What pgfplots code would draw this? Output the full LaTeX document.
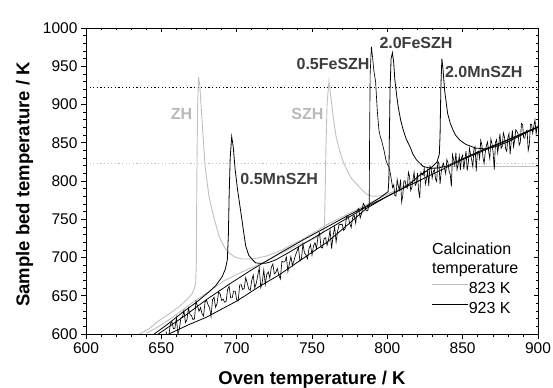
\documentclass[border=0pt]{standalone}
\usepackage{fontspec}
\setmainfont{Liberation Sans}
\usepackage{pgfplots}
\pgfplotsset{compat=1.18}
\definecolor{lgray}{RGB}{192,192,192}
\definecolor{tgray}{RGB}{185,185,185}
\definecolor{dlab}{RGB}{60,60,60}
\begin{document}
\begin{tikzpicture}
\path[use as bounding box] (-86bp,-54bp) rectangle (467bp,334bp);
\begin{axis}[
  at={(0,0)}, anchor=south west,
  width=452bp, height=306bp, scale only axis,
  xmin=600, xmax=900, ymin=600, ymax=1000,
  xtick={600,650,...,900}, ytick={600,650,...,1000},
  minor x tick num=4, minor y tick num=4,
  xtick pos=left, ytick pos=left,
  tick align=outside,
  major tick length=5bp, minor tick length=3bp,
  tick style={black, line width=0.6bp},
  axis line style={line width=0.8bp},
  ticklabel style={font=\fontsize{15.5bp}{18bp}\selectfont},
  /pgf/number format/assume math mode=true,
  /pgf/number format/1000 sep={},
  legend style={at={(axis cs:829.6,668.9)}, anchor=north west, draw=none, fill=none,
    inner sep=0pt, outer sep=0pt, row sep=5bp,
    font=\fontsize{16bp}{18bp}\selectfont,
    nodes={inner sep=0pt, outer sep=0pt, text height=12bp, text depth=3bp}},
  legend cell align=left,
  legend image code/.code={\draw[#1] (0bp,4.5bp) -- (36bp,4.5bp);},
  every odd column/.style={column sep=5bp},
]
% reference lines
\addplot[black, dash pattern=on 1.2bp off 2.4bp, line width=0.7bp, forget plot] coordinates {(600,923) (900,923)};
\addplot[lgray, dash pattern=on 1.2bp off 2.4bp, line width=0.7bp, forget plot] coordinates {(600,823) (900,823)};
% ZH (823 K)
\addplot[lgray, line width=0.9bp, forget plot] coordinates {
(635.5,600) (642,607) (648,617) (655,626) (661.7,635.7) (667,645) (670.5,653) (672,660) (672.8,668)
(673.2,690) (673.4,750) (673.7,830) (674.1,900) (674.7,936) (675.5,925) (677,880) (679,820)
(681.6,780) (684.5,755) (688.3,728) (692,713) (695.5,705) (699.3,700) (704,698) (708,698)
(713,699) (719,701.5) (728,708) (745,725) (760,743) (775,758) (790,773) (806,788) (815,797)
(822,808) (828,816) (835,819) (900,819)};
% SZH (823 K)
\addplot[lgray, line width=0.9bp, forget plot] coordinates {
(640.3,601) (650,612) (658,622.6) (670,640) (683,657.5) (692,670) (701.5,679) (710,687)
(719,694.5) (728,704) (738,714) (748.6,722) (754,727) (757,732) (758.3,740) (758.7,780)
(759.2,840) (760,900) (761.2,930) (762.2,915) (764,885) (766,858) (768,842) (770.5,826)
(773,815) (776,804) (780,795) (783,789) (786,783) (790,780) (795,780.5) (800,783) (806,788)
(815,797) (822,808) (828,816) (835,819) (900,819)};
% 0.5MnSZH
\addplot[black, line width=0.8bp, forget plot] coordinates {
(644.6,599) (655,614) (664.5,629) (673,641) (681.6,655) (686,663) (690.4,675) (692.5,685)
(693.8,697) (694.5,730) (695,780) (695.7,830) (696.7,858) (697.7,845) (699,815) (700.5,790)
(701.6,775) (703.3,752) (704.5,735) (706,715) (708,703) (710.5,697) (712.6,693) (715,692.5)
(719.2,692.5) (722,694) (726,697) (735,707) (760,736) (786,766) (808,788) (850,828) (900,870)};
% 2.0FeSZH
\addplot[black, line width=0.8bp, forget plot] coordinates {
(648,600) (665,623) (680,645) (695,665) (710,684) (728,705) (745,724) (760,740) (775,756)
(786,767) (795,778) (800.5,786) (801,800) (801.3,850) (801.8,920) (802.5,960) (803.4,967.7)
(804.2,955) (805,932) (806.2,912) (807.2,897) (808.8,880) (810.5,867) (812.5,855) (815,845)
(817,835) (819.4,827.5) (823.8,819) (829.3,816.5) (834,817) (840,820) (860,838) (880,854) (900,871)};
% 2.0MnSZH
\addplot[black, line width=0.8bp, forget plot] coordinates {
(655,600) (668,612) (680,622) (700,643) (715,662) (728,677) (745,700) (760,720) (775,745)
(786,764) (800,780) (810,790) (816,798) (821,807) (826,813) (830,819) (833,825) (834.5,835)
(835,860) (835.5,920) (836.2,960) (837,945) (838,919) (840,888.5) (841.7,876) (843.5,867)
(845.3,860) (848,853.6) (852,848) (858.6,843) (865.3,842) (872,845) (880,851) (890,861) (900,871)};
% 0.5FeSZH (noisy)
\addplot[black, line width=0.65bp, forget plot] coordinates {
(653,603.5) (654,598) (655,598.5) (656,613) (657,616.5) (658,607) (659,607.5) (660,621) (661,599.5)
(662,607) (663,621.5) (664,622) (665,630.5) (666,615) (667,618.5) (668,634) (669,625.5) (670,624)
(671,618.9) (672,619.9) (673,642.8) (674,636.7) (675,629.7) (676,634.6) (677,626.5) (678,623.5)
(679,641.4) (680,644.3) (681,638.3) (682,634.2) (683,623.1) (684,645.1) (685,648.0) (686,634.9)
(687,639.9) (688,654.8) (689,652.7) (690,643.7) (691,645.6) (692,641.5) (693,642.5) (694,658.4)
(695,662.3) (696,647.3) (697,647.2) (698,656.1) (699,656.1) (700,645) (701,643.1) (702,664.2)
(703,664.3) (704,658.4) (705,659.5) (706,673.6) (707,666.7) (708,658.8) (709,656.9) (710,670)
(711,677.1) (712,660.2) (713,666.3) (714,676.4) (715,686.5) (716,660.6) (717,667.7) (718,683.8)
(719,664.9) (720,678) (721,681.1) (722,673.2) (723,687.3) (724,691.4) (725,678.5) (726,680.6)
(727,685.7) (728,676.8) (729,671.9) (730,695) (731,694.2) (732,694.4) (733,700.6) (734,681.8)
(735,692.0) (736,701.2) (737,689.4) (738,695.6) (739,702.8) (740,708) (741,713.2) (742,695.4)
(743,698.6) (744,717.8) (745,706.0) (746,703.2) (747,698.4) (748,711.6) (749,716.8) (750,703)
(751,715.2) (752,719.4) (753,711.6) (754,727.8) (755,732.0) (756,713.2) (757,712.4) (758,724.6)
(759,725.8) (760,716) (761,723.6) (762,736.1) (763,711.7) (764,728.3) (765,739.9) (766,720.4)
(767,734.0) (768,743.6) (769,743.1) (770,743.7) (771,735.3) (772,737.9) (773,754.4) (774,754)
(775,744.6) (776,739.1) (777,752.7) (778,755.3) (779,744.9) (780,761.4) (781,764.0) (782,751.6)
(783,758.1) (784,770.7) (785,767.3) (786,760.9) (787,761.4)
(788,770) (788.2,850) (788.6,940) (789.4,975.6) (790.2,962) (791,945) (792.2,930) (792.8,910)
(793.3,893) (794.4,867) (795.3,858) (796.2,853) (797.8,840) (799,828) (800,822) (801,819) (802,810)
(803.5,791.4) (804.25,795.1) (805.0,780.7) (805.75,780.3) (806.5,802.0) (807.25,793.6) (808.0,788.3)
(808.75,801.9) (809.5,772.5) (810.25,781.2) (811.0,799.8) (811.75,800.4) (812.5,793.1) (813.25,790.7)
(814.0,811.4) (814.75,806.0) (815.5,787.6) (816.25,791.3) (817.0,801.9) (817.75,811.5) (818.5,794.2)
(819.25,796.8) (820.0,810.5) (820.75,787.1) (821.5,777.7) (822.25,811.4) (823.0,809.0) (823.75,807.6)
(824.5,816.3) (825.25,795.9) (826.0,802.6) (826.75,813.2) (827.5,793.8) (828.25,819.5) (829.0,817.1)
(829.75,803.7) (830.5,812.4) (831.25,815.0) (832.0,802.7) (832.75,799.3) (833.5,825.9) (834.25,822.6)
(835.0,796.2) (835.75,811.8) (836.5,819.5) (837.25,823.1) (838.0,815.8) (838.75,809.4) (839.5,828.0)
(840.25,823.7) (841.0,812.3) (841.75,808.9) (842.5,792.6) (843.25,834.2) (844.0,827.9) (844.75,820.5)
(845.5,837.1) (846.25,814.8) (847.0,821.4) (847.75,833.0) (848.5,814.7) (849.25,830.3) (850.0,834.0)
(850.75,815.6) (851.5,828.2) (852.25,838.9) (853.0,813.5) (853.75,824.1) (854.5,842.8) (855.25,834.4)
(856.0,827.1) (856.75,818.7) (857.5,842.3) (858.25,845.0) (859.0,812.6) (859.75,837.2) (860.5,838.9)
(861.25,829.5) (862.0,853.2) (862.75,846.8) (863.5,830.4) (864.25,823.1) (865.0,837.7) (865.75,846.3)
(866.5,851.0) (867.25,838.6) (868.0,829.3) (868.75,854.9) (869.5,848.5) (870.25,836.2) (871.0,814.8)
(871.75,850.4) (872.5,854.1) (873.25,836.7) (874.0,848.4) (874.75,862.0) (875.5,842.6) (876.25,845.3)
(877.0,862.9) (877.75,857.5) (878.5,842.2) (879.25,838.8) (880.0,856.5) (880.75,862.1) (881.5,834.7)
(882.25,852.4) (883.0,866.0) (883.75,844.6) (884.5,853.3) (885.25,866.9) (886.0,864.6) (886.75,862.2)
(887.5,846.8) (888.25,850.5) (889.0,875.1) (889.75,873.7) (890.5,856.4) (891.25,856.0) (892.0,864.7)
(892.75,866.3) (893.5,839.9) (894.25,847.6) (895.0,874.2) (895.75,873.8) (896.5,862.5) (897.25,872.1)
(898.0,879.8) (898.75,861.4) (899.5,872.1)};
% legend
\addlegendimage{lgray, line width=0.9bp}
\addlegendentry{823 K}
\addlegendimage{black, line width=0.8bp}
\addlegendentry{923 K}
% curve labels
\node[font=\bfseries\fontsize{16bp}{18bp}\selectfont, text=tgray] at (axis cs:663.4,888) {ZH};
\node[font=\bfseries\fontsize{16bp}{18bp}\selectfont, text=tgray] at (axis cs:747,888) {SZH};
\node[font=\bfseries\fontsize{16bp}{18bp}\selectfont, text=dlab] at (axis cs:764,953) {0.5FeSZH};
\node[font=\bfseries\fontsize{16bp}{18bp}\selectfont, text=dlab] at (axis cs:819,981) {2.0FeSZH};
\node[font=\bfseries\fontsize{16bp}{18bp}\selectfont, text=dlab] at (axis cs:864,942.5) {2.0MnSZH};
\node[font=\bfseries\fontsize{16bp}{18bp}\selectfont, text=dlab] at (axis cs:728.2,803) {0.5MnSZH};
\node[font=\fontsize{16bp}{18bp}\selectfont, anchor=base west, inner sep=0pt] at (axis cs:829.6,703.3) {Calcination};
\node[font=\fontsize{16bp}{18bp}\selectfont, anchor=base west, inner sep=0pt] at (axis cs:829.6,679.3) {temperature};
\end{axis}
\begin{axis}[
  at={(0,0)}, anchor=south west,
  width=452bp, height=306bp, scale only axis,
  xmin=600, xmax=900, ymin=600, ymax=1000,
  xtick={600,650,...,900}, ytick={600,650,...,1000},
  minor x tick num=4, minor y tick num=4,
  xtick pos=right, ytick pos=right,
  tick align=inside,
  major tick length=4bp, minor tick length=2.5bp,
  tick style={black, line width=0.6bp},
  axis line style={line width=0.8bp},
  xticklabels={}, yticklabels={},
]
\end{axis}
\node[font=\bfseries\fontsize{18.5bp}{20bp}\selectfont, anchor=base] at (226bp,-50.3bp) {Oven temperature / K};
\node[font=\bfseries\fontsize{18.5bp}{20bp}\selectfont, anchor=base, rotate=90] at (-56.7bp,149.5bp) {Sample bed temperature / K};
\end{tikzpicture}
\end{document}
